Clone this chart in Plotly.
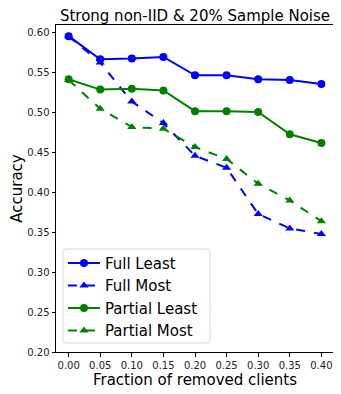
import plotly.graph_objects as go

# fraction of removed clients
fractions = [0.00, 0.05, 0.10, 0.15, 0.20, 0.25, 0.30, 0.35, 0.40]

full_least = [0.596, 0.567, 0.568, 0.570, 0.547, 0.547, 0.542, 0.541, 0.536]
full_most = [0.596, 0.563, 0.514, 0.487, 0.446, 0.431, 0.373, 0.355, 0.348]
partial_least = [0.542, 0.529, 0.530, 0.528, 0.502, 0.502, 0.501, 0.473, 0.462]
partial_most = [0.541, 0.505, 0.482, 0.480, 0.457, 0.442, 0.411, 0.390, 0.364]

series = [
    ("Full Least", full_least, "blue", "solid", "circle"),
    ("Full Most", full_most, "blue", "dash", "triangle-up"),
    ("Partial Least", partial_least, "green", "solid", "circle"),
    ("Partial Most", partial_most, "green", "dash", "triangle-up"),
]

fig = go.Figure()
for name, vals, col, dash, sym in series:
    fig.add_trace(go.Scatter(
        x=fractions, y=vals, name=name, mode="lines+markers",
        line=dict(color=col, width=2, dash=dash),
        marker=dict(color=col, symbol=sym, size=8),
    ))

axis_style = dict(
    showline=True, linecolor="black", linewidth=1, mirror=True,
    ticks="outside", ticklen=3.5, tickcolor="black",
    showgrid=False, zeroline=False, automargin=False,
    tickfont=dict(size=10, color="#222"),
)

# rounded legend frame (matplotlib style), drawn as a shape behind the legend text
x0, x1, y0, y1, r = 0.025, 0.554, 0.0275, 0.315, 0.012
ry = r * 278 / 327
frame = (f"M {x0+r},{y0} L {x1-r},{y0} Q {x1},{y0} {x1},{y0+ry} "
         f"L {x1},{y1-ry} Q {x1},{y1} {x1-r},{y1} L {x0+r},{y1} "
         f"Q {x0},{y1} {x0},{y1-ry} L {x0},{y0+ry} Q {x0},{y0} {x0+r},{y0} Z")

# page body has an 8px margin, so the figure is sized/offset to compensate
fig.update_layout(
    width=333, height=386,
    margin=dict(l=48, r=7, t=17, b=42),
    paper_bgcolor="white", plot_bgcolor="white",
    font=dict(family="DejaVu Sans", color="black"),
    title=dict(text="Strong non-IID & 20% Sample Noise", xref="paper", x=0.5, xanchor="center",
               y=0.981, yanchor="middle", font=dict(size=15)),
    xaxis=dict(range=[-0.02, 0.42], tickvals=fractions, tickformat=".2f",
               title=dict(text="Fraction of removed clients", font=dict(size=15), standoff=4),
               **axis_style),
    yaxis=dict(range=[0.2, 0.61], dtick=0.05, tick0=0.2, tickformat=".2f",
               title=dict(text="Accuracy", font=dict(size=15), standoff=4),
               **axis_style),
    shapes=[dict(type="path", path=frame, xref="paper", yref="paper", layer="above",
                 fillcolor="rgba(255,255,255,0.85)", line=dict(color="#d8d8d8", width=1))],
    legend=dict(x=0.025, y=0.016, xanchor="left", yanchor="bottom",
                bgcolor="rgba(0,0,0,0)", borderwidth=0,
                font=dict(size=15), tracegroupgap=0, itemwidth=32),
)

fig.write_html("out.html")
